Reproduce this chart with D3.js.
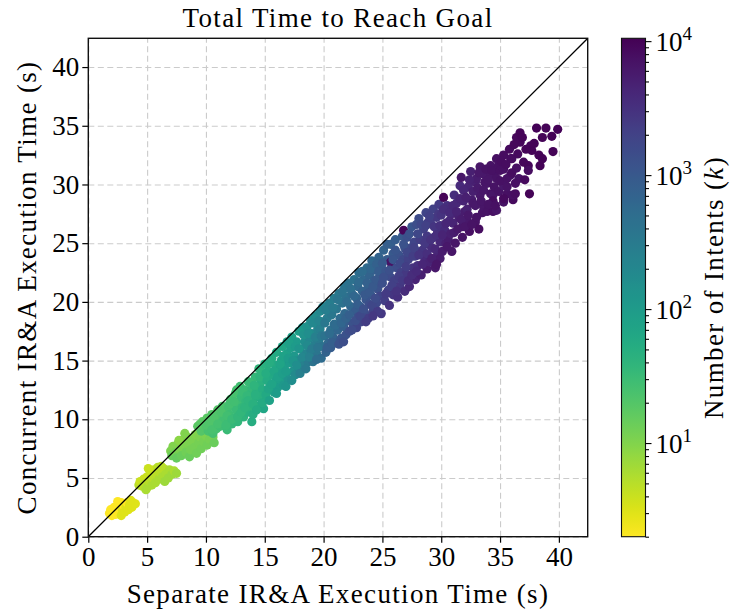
<!DOCTYPE html>
<html>
<head>
    <meta charset="UTF-8">
    <title>Total Time to Reach Goal</title>
    <script src="https://d3js.org/d3.v7.min.js"></script>
    <style>
        body { margin: 0; background: #fff; }
        text { fill: #000; }
    </style>
</head>
<body>
    <svg id="chart" width="730" height="610"></svg>

    <script>
        // each point: [separate IR&A time (s), concurrent IR&A time (s), number of intents k]
        const clusterK2 = [
            [1.8, 2.0, 2], [1.9, 2.3, 2], [2.0, 1.8, 2], [2.1, 2.2, 2], [2.2, 2.5, 2], [2.3, 1.9, 2],
            [2.4, 2.3, 2], [2.5, 2.7, 2], [2.6, 2.1, 2], [2.7, 2.5, 2], [2.8, 2.9, 2], [2.8, 1.8, 3],
            [2.9, 2.3, 3], [3.0, 2.7, 2], [3.1, 2.1, 3], [3.2, 2.5, 3], [3.3, 2.9, 2], [3.4, 2.3, 3],
            [3.5, 2.7, 3], [3.7, 2.5, 3], [3.8, 2.9, 3], [4.0, 2.8, 3], [2.5, 3.0, 2], [3.6, 3.1, 3]
        ];
        const clusterK5 = [
            [4.3, 4.4, 5], [4.4, 4.7, 4], [4.6, 4.3, 5], [4.7, 4.9, 4], [4.8, 4.5, 5], [5.0, 5.1, 4],
            [5.0, 4.2, 6], [5.2, 4.7, 5], [5.3, 5.4, 4], [5.4, 4.4, 6], [5.5, 5.0, 5], [5.6, 5.7, 4],
            [5.7, 4.6, 6], [5.8, 5.3, 5], [5.9, 5.9, 5], [6.0, 4.9, 6], [6.1, 5.5, 5], [6.3, 5.1, 6],
            [6.4, 5.8, 5], [6.5, 4.7, 7], [6.6, 5.4, 6], [6.8, 5.0, 7], [6.9, 5.7, 6], [7.1, 5.3, 7],
            [7.3, 5.6, 6], [7.5, 5.4, 7], [5.1, 5.8, 4], [6.2, 6.0, 5], [4.9, 4.0, 6]
        ];
        const clusterK12 = [
            [7.0, 7.3, 11], [7.1, 6.9, 14], [7.2, 7.7, 10], [7.4, 7.2, 12], [7.5, 6.7, 15], [7.6, 7.9, 10],
            [7.8, 7.4, 11], [7.9, 6.9, 14], [8.0, 8.2, 10], [8.1, 7.7, 11], [8.3, 7.2, 13], [8.4, 8.5, 10],
            [8.5, 7.9, 11], [8.6, 6.8, 14], [8.7, 7.4, 12], [8.9, 8.2, 11], [9.0, 7.6, 12], [9.1, 8.7, 10],
            [9.2, 7.1, 13], [9.4, 8.0, 12], [9.5, 8.5, 11], [9.6, 7.5, 13], [9.8, 8.1, 12], [10.0, 8.6, 11],
            [10.1, 7.8, 13], [10.3, 8.3, 12], [10.6, 8.5, 12], [10.7, 8.0, 14], [8.2, 8.8, 10], [7.7, 8.2, 9]
        ];
        const band10to15 = [
            [9.3, 9.4, 18], [9.6, 9.0, 20], [9.7, 9.8, 17], [9.9, 9.3, 20],
            [10.1, 10.1, 18], [10.2, 9.0, 24], [10.4, 9.6, 22], [10.5, 10.4, 19], [10.6, 8.8, 26], [10.8, 9.9, 22], [10.9, 9.2, 25],
            [11.0, 10.8, 20], [11.1, 10.2, 24], [11.2, 9.4, 28], [11.4, 11.1, 22], [11.5, 9.9, 27], [11.6, 10.5, 25],
            [11.8, 9.1, 32], [11.9, 11.0, 26], [11.9, 9.7, 30],
            [12.0, 10.4, 30], [12.1, 11.7, 25], [12.2, 9.6, 35], [12.3, 11.1, 28], [12.4, 10.1, 33], [12.5, 12.2, 24],
            [12.6, 10.8, 32], [12.7, 9.8, 38], [12.8, 11.5, 30], [12.9, 12.8, 27], [12.9, 10.4, 36],
            [13.0, 11.9, 33], [13.1, 11.0, 36], [13.2, 10.2, 42], [13.3, 12.5, 32], [13.4, 11.5, 38], [13.5, 10.6, 45],
            [13.6, 13.2, 30], [13.7, 12.1, 38], [13.8, 11.1, 42], [13.9, 9.8, 50], [13.9, 12.7, 36],
            [14.0, 10.4, 50], [14.1, 11.8, 45], [14.2, 13.6, 35], [14.3, 12.4, 42], [14.4, 11.1, 52], [14.5, 14.3, 38],
            [14.6, 13.0, 45], [14.7, 11.7, 55], [14.8, 12.5, 50], [14.9, 13.7, 48], [14.9, 10.9, 65],
            [9.5, 9.6, 18], [10.0, 9.5, 21], [10.3, 9.8, 21], [10.7, 10.2, 21], [10.5, 9.1, 24], [11.0, 9.6, 25],
            [11.3, 10.6, 23], [11.7, 9.5, 30], [11.8, 10.3, 27], [12.0, 11.3, 26], [12.2, 10.0, 32], [12.4, 11.5, 27],
            [12.6, 12.5, 25], [12.7, 10.2, 36], [13.0, 10.6, 38], [13.1, 12.3, 31], [13.3, 11.0, 40], [13.5, 12.0, 35],
            [13.6, 11.6, 40], [13.8, 13.1, 33], [14.0, 11.3, 45], [14.1, 12.9, 40], [14.3, 10.8, 55], [14.5, 12.0, 48],
            [14.6, 13.6, 42], [14.8, 11.4, 58], [14.7, 14.1, 40], [14.2, 12.1, 46]
        ];
        const band15to20 = [
            [15.0, 14.7, 45], [15.1, 12.1, 60], [15.2, 13.3, 55], [15.3, 14.1, 50], [15.4, 11.6, 75], [15.5, 12.8, 65],
            [15.6, 15.2, 52], [15.7, 13.8, 62], [15.8, 12.3, 80], [15.9, 14.6, 60], [15.9, 13.2, 75],
            [16.0, 15.7, 60], [16.1, 12.7, 95], [16.2, 14.2, 75], [16.3, 13.4, 85], [16.4, 15.0, 70], [16.5, 16.2, 65],
            [16.6, 12.9, 110], [16.7, 14.6, 85], [16.8, 13.7, 100], [16.9, 15.6, 80], [16.9, 16.6, 75],
            [17.0, 13.4, 130], [17.1, 14.8, 100], [17.2, 16.1, 90], [17.3, 17.0, 80], [17.4, 14.1, 140], [17.5, 15.4, 110],
            [17.6, 13.8, 180], [17.7, 16.6, 100], [17.8, 15.0, 150], [17.9, 17.5, 90], [17.9, 14.4, 200],
            [18.0, 16.0, 130], [18.1, 15.0, 180], [18.2, 17.8, 110], [18.3, 14.6, 260], [18.4, 16.6, 160], [18.5, 15.6, 220],
            [18.6, 17.9, 140], [18.7, 14.9, 320], [18.8, 16.9, 200], [18.9, 18.4, 150], [18.9, 15.9, 280],
            [19.0, 17.3, 180], [19.1, 14.9, 400], [19.2, 16.3, 280], [19.3, 18.8, 170], [19.4, 15.6, 380], [19.5, 17.7, 230],
            [19.6, 16.7, 320], [19.7, 19.2, 200], [19.7, 17.7, 260], [19.8, 15.2, 550], [19.9, 18.3, 260], [19.9, 16.2, 420],
            [15.1, 13.9, 52], [15.3, 12.6, 68], [15.4, 14.8, 50], [15.6, 13.0, 70], [15.8, 14.1, 65], [16.0, 12.2, 95],
            [16.1, 13.6, 80], [16.3, 14.7, 70], [16.5, 13.9, 90], [16.6, 15.4, 75], [16.8, 12.8, 120], [16.8, 14.1, 95],
            [17.0, 15.2, 95], [17.1, 16.5, 85], [17.3, 13.3, 160], [17.4, 15.0, 120], [17.6, 16.2, 100], [17.7, 14.6, 160],
            [17.9, 16.0, 120], [18.0, 13.9, 260], [18.2, 15.3, 200], [18.3, 17.2, 130], [18.5, 14.3, 320], [18.6, 16.3, 180],
            [18.7, 17.3, 160], [18.8, 15.3, 260], [19.0, 16.0, 300], [19.1, 18.2, 190], [19.3, 17.0, 260], [19.4, 15.1, 500],
            [19.5, 16.1, 380], [19.6, 18.4, 220], [19.8, 17.1, 330], [19.9, 19.5, 220]
        ];
        const band20to25 = [
            [20.0, 19.6, 230], [20.1, 17.1, 400], [20.2, 15.7, 700], [20.3, 18.6, 300], [20.4, 16.5, 600], [20.5, 19.9, 280],
            [20.6, 17.6, 450], [20.6, 16.1, 900], [20.7, 18.9, 350], [20.8, 17.0, 700], [20.9, 20.3, 300], [20.9, 18.1, 500],
            [21.0, 16.5, 900], [21.1, 19.4, 380], [21.2, 17.6, 650], [21.3, 20.7, 330], [21.4, 18.6, 520], [21.5, 16.9, 1100],
            [21.6, 19.9, 420], [21.7, 17.9, 800], [21.8, 21.3, 380], [21.8, 19.0, 600], [21.9, 17.2, 1200], [21.9, 20.4, 450],
            [22.0, 18.4, 900], [22.1, 21.6, 420], [22.2, 17.5, 1400], [22.3, 19.6, 650], [22.4, 20.7, 520], [22.5, 18.1, 1200],
            [22.6, 21.9, 450], [22.7, 19.2, 900], [22.8, 17.8, 1800], [22.8, 20.3, 700], [22.9, 18.7, 1300], [22.9, 21.3, 600],
            [23.0, 22.5, 500], [23.1, 19.6, 1000], [23.2, 18.3, 1800], [23.3, 20.9, 700], [23.4, 21.9, 600], [23.5, 19.0, 1500],
            [23.6, 20.2, 1100], [23.7, 22.9, 550], [23.8, 18.6, 2200], [23.8, 21.3, 800], [23.9, 19.8, 1400], [23.9, 22.3, 700],
            [24.0, 20.6, 1100], [24.1, 23.5, 600], [24.2, 19.2, 1900], [24.3, 21.8, 900], [24.4, 22.7, 800], [24.5, 19.9, 1600],
            [24.6, 21.1, 1200], [24.7, 23.8, 700], [24.8, 20.5, 1800], [24.8, 22.2, 1000], [24.9, 19.0, 2600], [24.9, 23.0, 900],
            [20.1, 18.2, 350], [20.2, 19.3, 280], [20.3, 16.1, 800], [20.5, 17.3, 520], [20.7, 16.5, 800], [20.8, 19.5, 320],
            [21.0, 18.0, 550], [21.2, 20.2, 380], [21.3, 16.4, 1200], [21.5, 18.2, 650], [21.6, 20.9, 400], [21.7, 16.6, 1400],
            [21.9, 18.6, 700], [22.0, 20.0, 520], [22.2, 18.9, 800], [22.3, 21.1, 480], [22.4, 17.6, 1500], [22.6, 20.5, 620],
            [22.7, 18.4, 1300], [22.9, 19.8, 850], [23.0, 21.7, 560], [23.1, 18.8, 1600], [23.3, 22.6, 520], [23.4, 19.4, 1300],
            [23.5, 20.6, 1000], [23.6, 18.3, 2300], [23.7, 21.6, 750], [23.9, 20.8, 1000], [24.0, 22.8, 650], [24.1, 19.7, 1700],
            [24.2, 21.3, 1000], [24.4, 20.3, 1500], [24.5, 23.2, 750], [24.6, 19.2, 2400], [24.7, 22.6, 900], [24.9, 21.6, 1200],
            [24.5, 21.9, 1000], [24.2, 18.8, 2600]
        ];
        const band25to30 = [
            [25.0, 21.6, 1300], [25.1, 24.4, 700], [25.2, 20.1, 2200], [25.3, 22.6, 1100], [25.4, 23.6, 900], [25.5, 21.0, 1900],
            [25.6, 19.7, 3000], [25.7, 22.1, 1500], [25.7, 24.9, 800], [25.8, 23.0, 1200], [25.9, 20.6, 2800], [25.9, 24.1, 1000],
            [25.7, 23.4, 7000],
            [26.0, 21.8, 2000], [26.1, 25.3, 900], [26.2, 22.9, 1500], [26.3, 20.4, 3200], [26.4, 24.0, 1200], [26.5, 21.3, 2600],
            [26.6, 22.5, 2000], [26.7, 25.6, 1000], [26.8, 26.1, 9000], [26.8, 23.6, 1600], [26.9, 20.9, 3500], [26.9, 24.6, 1300],
            [27.0, 22.4, 2600], [27.1, 25.5, 1300], [27.2, 23.6, 2000], [27.3, 21.3, 4000], [27.4, 24.6, 1600], [27.5, 26.4, 1100],
            [27.6, 22.9, 3000], [27.7, 25.1, 1800], [27.8, 23.9, 2400], [27.8, 21.9, 4500], [27.9, 26.6, 1400], [27.9, 24.3, 400],
            [28.0, 23.1, 3200], [28.1, 27.1, 1500], [28.2, 25.3, 2200], [28.3, 22.3, 5000], [28.4, 24.4, 2800], [28.5, 26.2, 2000],
            [28.6, 23.7, 3800], [28.7, 27.6, 1800], [28.8, 25.6, 2500], [28.8, 22.8, 5500], [28.9, 24.9, 3000], [28.9, 26.8, 2200],
            [29.0, 23.4, 4500], [29.1, 26.7, 2400], [29.2, 24.6, 3500], [29.3, 27.9, 2000], [29.4, 25.5, 3000], [29.5, 22.9, 6000],
            [29.6, 27.2, 2600], [29.7, 24.1, 4500], [29.7, 26.0, 3200], [29.8, 28.3, 2400], [29.9, 25.1, 4000], [29.9, 23.7, 5500],
            [25.0, 23.3, 950], [25.1, 22.1, 1300], [25.3, 20.7, 2400], [25.4, 24.9, 800], [25.6, 22.7, 1300], [25.8, 21.4, 2100],
            [25.9, 23.6, 1100], [26.1, 24.4, 1100], [26.2, 20.9, 3000], [26.4, 22.2, 2200], [26.5, 23.3, 1600], [26.7, 21.8, 2500],
            [26.8, 24.9, 1200], [27.0, 23.0, 2200], [27.1, 24.2, 1700], [27.2, 21.8, 3500], [27.3, 25.8, 1200], [27.5, 22.3, 3500],
            [27.6, 23.9, 2200], [27.7, 24.6, 2000], [27.9, 22.6, 3800], [28.0, 25.8, 1700], [28.1, 24.0, 2900], [28.3, 26.6, 1700],
            [28.4, 23.2, 4200], [28.6, 25.0, 2600], [28.7, 26.5, 2000], [28.8, 24.1, 3300], [29.0, 27.3, 2100], [29.1, 25.3, 3100],
            [29.2, 23.7, 5000], [29.4, 26.4, 2800], [29.5, 24.5, 4000], [29.6, 25.7, 3300], [29.8, 27.5, 2600], [29.9, 26.5, 3200],
            [29.6, 23.2, 6500]
        ];
        const band30to35 = [
            [30.0, 27.4, 3000], [30.1, 24.3, 5500], [30.2, 28.9, 9500], [30.3, 26.1, 3800], [30.4, 25.0, 5000], [30.5, 28.2, 3200],
            [30.6, 25.3, 5500], [30.7, 26.9, 4000], [30.8, 28.1, 3500], [30.9, 24.3, 6500], [30.9, 27.5, 4200],
            [31.0, 26.7, 4500], [31.1, 29.1, 3500], [31.2, 25.0, 6500], [31.3, 28.4, 4000], [31.5, 27.2, 5000], [31.6, 29.9, 3800],
            [31.7, 30.6, 6000], [31.8, 25.5, 7000], [31.8, 26.4, 6000], [31.9, 28.6, 4500],
            [32.0, 27.7, 5500], [32.2, 27.0, 6000], [32.2, 27.9, 5000], [32.3, 29.8, 4500], [32.4, 26.0, 7500], [32.5, 31.1, 5000],
            [32.6, 28.7, 5500], [32.7, 28.4, 6000], [32.9, 30.2, 5000], [32.9, 26.8, 7000],
            [33.0, 30.5, 5500], [33.2, 26.2, 8000], [33.3, 29.1, 6000], [33.3, 31.5, 6500], [33.5, 27.6, 7000], [33.6, 28.1, 6500],
            [33.6, 30.9, 6000], [33.7, 30.2, 6500], [33.9, 27.7, 7000], [33.9, 30.1, 6500],
            [34.2, 31.6, 7000], [34.2, 29.2, 7000], [34.2, 30.9, 6500], [34.4, 27.7, 7500], [34.4, 29.1, 6500], [34.6, 31.1, 7000],
            [34.7, 27.8, 6500], [34.7, 32.2, 7500], [34.7, 30.5, 7000], [34.4, 28.6, 8000],
            [30.1, 25.7, 4500], [30.2, 27.9, 3500], [30.4, 26.7, 4200], [30.5, 24.7, 6000], [30.7, 27.6, 3800], [30.8, 25.8, 5000],
            [31.0, 28.2, 4000], [31.1, 25.9, 5500], [31.3, 27.7, 4600], [31.4, 26.2, 6000], [31.6, 28.8, 4500], [31.7, 27.0, 5500],
            [31.9, 29.5, 4200], [32.0, 26.4, 6500], [32.1, 28.9, 5000], [32.3, 27.4, 6000], [32.4, 30.4, 4800], [32.6, 26.6, 7000],
            [32.7, 29.4, 5200], [32.9, 28.2, 6000], [33.0, 27.2, 7000], [33.1, 29.7, 5800], [33.2, 31.0, 6000], [33.4, 28.6, 6500],
            [33.6, 29.5, 6200], [33.8, 31.3, 6800], [34.0, 28.3, 7000], [34.0, 30.4, 6500], [34.3, 31.2, 7200], [34.5, 29.8, 6800],
            [34.6, 28.2, 7500], [34.9, 31.7, 7500], [34.9, 29.4, 7000]
        ];
        const band35to40 = [
            [35.0, 31.2, 7500], [35.3, 32.5, 8000], [35.3, 29.9, 6000], [35.3, 28.5, 7000], [35.3, 31.3, 7500], [35.6, 29.2, 7500],
            [35.6, 29.8, 7000], [35.9, 32.2, 8000], [35.9, 30.8, 7000], [35.3, 28.8, 8500],
            [36.0, 32.2, 8000], [36.1, 28.7, 8500], [36.1, 29.1, 7500], [36.3, 29.2, 8000], [36.4, 34.0, 9000], [36.4, 31.4, 7500],
            [36.6, 30.5, 7000], [36.7, 34.4, 9500], [36.7, 33.6, 9000], [37.4, 31.6, 9000], [37.4, 31.2, 8000], [37.5, 29.2, 9500],
            [37.6, 33.3, 9000], [37.7, 32.9, 9500], [38.1, 34.8, 10000], [38.3, 32.5, 9500], [38.4, 31.6, 10000], [38.6, 32.2, 10000],
            [38.6, 34.0, 9500], [38.9, 34.8, 9500], [39.4, 34.1, 10000], [39.5, 32.8, 9500], [39.9, 34.7, 10000],
            [35.0, 30.3, 7200], [35.1, 32.0, 8000], [35.5, 31.7, 8000], [35.6, 30.5, 7200], [35.8, 33.0, 8500], [36.0, 31.0, 8000],
            [36.2, 33.4, 9000], [36.3, 30.1, 7500], [36.5, 32.6, 8500], [36.9, 34.0, 9500], [37.0, 31.9, 9000], [37.2, 33.0, 9500],
            [37.9, 33.5, 9500], [37.1, 30.4, 8500]
        ];

        const xTicks = [0, 5, 10, 15, 20, 25, 30, 35, 40];
        const yTicks = [0, 5, 10, 15, 20, 25, 30, 35, 40];
        const cbarTicks = [10, 100, 1000, 10000];
        const axisMax = 42.45;
        const kMin = 2, kMax = 10500;

        const titleText = "Total Time to Reach Goal";
        const xLabelText = "Separate IR&A Execution Time (s)";
        const yLabelText = "Concurrent IR&A Execution Time (s)";

        const points = [].concat(clusterK2, clusterK5, clusterK12, band10to15, band15to20,
            band20to25, band25to30, band30to35, band35to40);

        const fontFamily = '"Liberation Serif", "Times New Roman", serif';
        const fontSize = 27;

        let svg = d3.select("svg#chart");
        let plot = { left: 88.3, right: 587.7, top: 38.3, bottom: 536.7 };
        let cbar = { left: 621.5, right: 645.5 };

        const xScale = d3.scaleLinear().domain([0, axisMax]).range([plot.left, plot.right]);
        const yScale = d3.scaleLinear().domain([0, axisMax]).range([plot.bottom, plot.top]);
        const colorScale = d3.scaleSequentialLog(d3.interpolateViridis).domain([kMax, kMin]);
        const kScale = d3.scaleLog().domain([kMin, kMax]).range([plot.bottom, plot.top]);

        // gridlines (below the points)
        let grid = svg.append("g").attr("id", "grid");
        grid.append("g")
            .attr("transform", `translate(0,${plot.bottom})`)
            .call(d3.axisBottom(xScale).tickValues(xTicks).tickSize(-(plot.bottom - plot.top)).tickFormat(""));
        grid.append("g")
            .attr("transform", `translate(${plot.left},0)`)
            .call(d3.axisLeft(yScale).tickValues(yTicks).tickSize(-(plot.right - plot.left)).tickFormat(""));
        grid.selectAll(".domain").remove();
        grid.selectAll("line")
            .attr("stroke", "#cbcbcb")
            .attr("stroke-width", 1.1)
            .attr("stroke-dasharray", "6,3.5");

        // points
        svg.append("clipPath").attr("id", "plot-clip")
            .append("rect")
            .attr("x", plot.left).attr("y", plot.top)
            .attr("width", plot.right - plot.left).attr("height", plot.bottom - plot.top);

        let chartArea = svg.append("g").attr("id", "points").attr("clip-path", "url(#plot-clip)");
        chartArea.selectAll("circle").data(points)
            .join("circle")
            .attr("cx", d => xScale(d[0]))
            .attr("cy", d => yScale(d[1]))
            .attr("r", 4.6)
            .attr("fill", d => colorScale(d[2]));

        // y = x reference line
        chartArea.append("line")
            .attr("x1", xScale(0)).attr("y1", yScale(0))
            .attr("x2", xScale(axisMax)).attr("y2", yScale(axisMax))
            .attr("stroke", "#000")
            .attr("stroke-width", 1.3);

        // axes
        let xAxis = svg.append("g")
            .attr("transform", `translate(0,${plot.bottom})`)
            .call(d3.axisBottom(xScale).tickValues(xTicks).tickSize(6).tickPadding(4).tickFormat(d3.format("d")));
        let yAxis = svg.append("g")
            .attr("transform", `translate(${plot.left},0)`)
            .call(d3.axisLeft(yScale).tickValues(yTicks).tickSize(6).tickPadding(3).tickFormat(d3.format("d")));
        [xAxis, yAxis].forEach(g => {
            g.attr("font-family", fontFamily).attr("font-size", fontSize);
            g.select(".domain").remove();
            g.selectAll(".tick line").attr("stroke", "#000").attr("stroke-width", 1.2);
        });

        svg.append("rect")
            .attr("x", plot.left).attr("y", plot.top)
            .attr("width", plot.right - plot.left).attr("height", plot.bottom - plot.top)
            .attr("fill", "none")
            .attr("stroke", "#111")
            .attr("stroke-width", 1.4);

        // labels
        svg.append("text")
            .attr("x", (plot.left + plot.right) / 2).attr("y", 27)
            .attr("text-anchor", "middle")
            .attr("font-family", fontFamily).attr("font-size", fontSize)
            .attr("letter-spacing", "0.05em")
            .text(titleText);

        svg.append("text")
            .attr("x", (plot.left + plot.right) / 2).attr("y", 603)
            .attr("text-anchor", "middle")
            .attr("font-family", fontFamily).attr("font-size", fontSize)
            .attr("letter-spacing", "0.05em")
            .text(xLabelText);

        svg.append("text")
            .attr("transform", `translate(36,${(plot.top + plot.bottom) / 2}) rotate(-90)`)
            .attr("text-anchor", "middle")
            .attr("font-family", fontFamily).attr("font-size", fontSize)
            .attr("letter-spacing", "0.05em")
            .text(yLabelText);

        // colorbar
        let defs = svg.append("defs");
        let gradient = defs.append("linearGradient")
            .attr("id", "cbar-gradient")
            .attr("x1", 0).attr("y1", 1).attr("x2", 0).attr("y2", 0);
        d3.range(0, 1.0001, 0.02).forEach(t => {
            gradient.append("stop")
                .attr("offset", t)
                .attr("stop-color", d3.interpolateViridis(1 - t));
        });

        svg.append("rect")
            .attr("x", cbar.left).attr("y", plot.top)
            .attr("width", cbar.right - cbar.left).attr("height", plot.bottom - plot.top)
            .attr("fill", "url(#cbar-gradient)")
            .attr("stroke", "#111")
            .attr("stroke-width", 1.1);

        let minorTicks = [];
        [1, 10, 100, 1000].forEach(base => {
            for (let m = 2; m <= 9; m++) {
                let v = base * m;
                if (v >= kMin && v <= kMax) minorTicks.push(v);
            }
        });

        let cbarMinor = svg.append("g")
            .attr("transform", `translate(${cbar.right},0)`)
            .call(d3.axisRight(kScale).tickValues(minorTicks).tickSize(3.5).tickFormat(""));
        let cbarAxis = svg.append("g")
            .attr("transform", `translate(${cbar.right},0)`)
            .call(d3.axisRight(kScale).tickValues(cbarTicks).tickSize(6).tickPadding(4).tickFormat(""));
        [cbarMinor, cbarAxis].forEach(g => {
            g.select(".domain").remove();
            g.selectAll(".tick line").attr("stroke", "#000").attr("stroke-width", 1.1);
        });

        cbarAxis.selectAll(".tick text")
            .attr("font-family", fontFamily)
            .attr("font-size", fontSize)
            .attr("dy", "0.36em")
            .each(function (d) {
                let t = d3.select(this);
                t.append("tspan").text("10");
                t.append("tspan")
                    .attr("font-size", 19)
                    .attr("dy", "-0.62em")
                    .text(Math.round(Math.log10(d)));
            });

        let cbarLabel = svg.append("text")
            .attr("transform", `translate(723,${(plot.top + plot.bottom) / 2}) rotate(-90)`)
            .attr("text-anchor", "middle")
            .attr("font-family", fontFamily).attr("font-size", fontSize)
            .attr("letter-spacing", "0.05em");
        cbarLabel.append("tspan").text("Number of Intents (");
        cbarLabel.append("tspan").attr("font-style", "italic").text("k");
        cbarLabel.append("tspan").text(")");
    </script>
</body>
</html>
